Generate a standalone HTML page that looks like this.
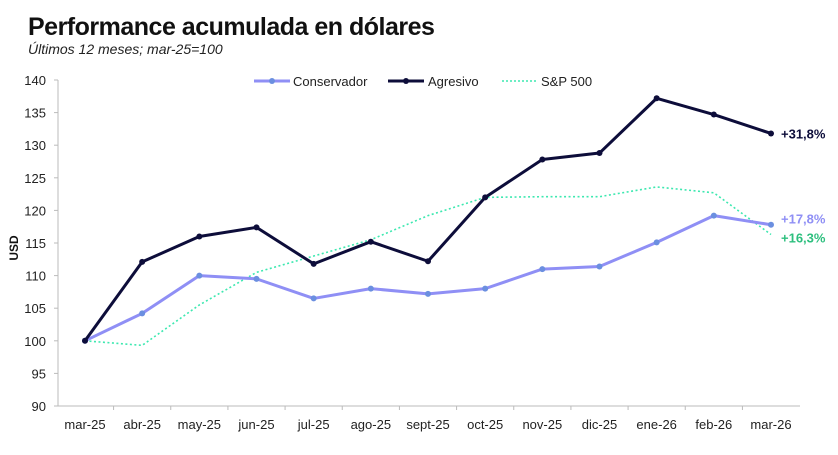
<!DOCTYPE html>
<html><head><meta charset="utf-8"><style>
body{margin:0;background:#fff;width:838px;height:450px;overflow:hidden;font-family:"Liberation Sans",sans-serif}
</style></head><body>
<svg id="c" width="838" height="450" xmlns="http://www.w3.org/2000/svg">
<text x="28" y="35" font-size="25" font-weight="bold" fill="#111" letter-spacing="-0.5">Performance acumulada en dólares</text>
<text x="28" y="54" font-size="14" font-style="italic" fill="#222">Últimos 12 meses; mar-25=100</text>
<text transform="translate(18,248) rotate(-90)" text-anchor="middle" font-size="12" font-weight="bold" fill="#111">USD</text>
<g id="axes"></g><g id="series"></g>
<g font-size="13" fill="#222">
<g><line x1="254" y1="81" x2="290" y2="81" stroke="#8f8ff5" stroke-width="3"/><circle cx="272" cy="81" r="3" fill="#6b8fe0"/><text x="293" y="86">Conservador</text></g>
<g><line x1="388" y1="81" x2="424" y2="81" stroke="#0d0d3a" stroke-width="3"/><circle cx="406" cy="81" r="3" fill="#0d0d3a"/><text x="428" y="86">Agresivo</text></g>
<g><line x1="502" y1="81" x2="538" y2="81" stroke="#3de8b0" stroke-width="1.5" stroke-dasharray="2,2"/><text x="541" y="86">S&amp;P 500</text></g>
</g>
</svg>
<script>
const categories=["mar-25","abr-25","may-25","jun-25","jul-25","ago-25","sept-25","oct-25","nov-25","dic-25","ene-26","feb-26","mar-26"];
const conservador=[100,104.2,110,109.5,106.5,108,107.2,108,111,111.4,115.1,119.2,117.8];
const agresivo=[100,112.1,116,117.4,111.8,115.2,112.2,122,127.8,128.8,137.2,134.7,131.8];
const sp500=[100,99.3,105.5,110.5,113,115.5,119.2,122,122.1,122.1,123.6,122.7,116.3];
const yTicks=[90,95,100,105,110,115,120,125,130,135,140];
const endLabels=["+17,8%","+31,8%","+16,3%"];
const NS="http://www.w3.org/2000/svg";
const x0=85,x1=771,yB=406,yT=80,vMin=90,vMax=140;
const X=i=>x0+(x1-x0)*i/(categories.length-1);
const Y=v=>yB-(v-vMin)/(vMax-vMin)*(yB-yT);
function mk(t,a,p){const e=document.createElementNS(NS,t);for(const k in a)e.setAttribute(k,a[k]);p.appendChild(e);return e;}
const ax=document.getElementById('axes'),se=document.getElementById('series');
const yl=mk('line',{x1:58,y1:yT,x2:58,y2:yB,stroke:'#bbb'},ax);

const xl=mk('line',{x1:58,y1:yB,x2:800,y2:yB,stroke:'#bbb'},ax);

yTicks.forEach(v=>{mk('line',{x1:54,y1:Y(v),x2:58,y2:Y(v),stroke:'#bbb'},ax);
const t=mk('text',{x:46,y:Y(v)+5,'text-anchor':'end','font-size':13,fill:'#222'},ax);t.textContent=v;
});
categories.forEach((c,i)=>{const t=mk('text',{x:X(i),y:429,'text-anchor':'middle','font-size':13,fill:'#222'},ax);t.textContent=c;

if(i<categories.length-1){const tx=(X(i)+X(i+1))/2;mk('line',{x1:tx,y1:yB,x2:tx,y2:yB+4,stroke:'#bbb'},ax);}});
function draw(data,name,color,w,dash,dot,dotColor){
const p=mk('polyline',{points:data.map((v,i)=>X(i)+','+Y(v)).join(' '),fill:'none',stroke:color,'stroke-width':w,'stroke-linejoin':'round'},se);
if(dash)p.setAttribute('stroke-dasharray',dash);

if(dot)data.forEach((v,i)=>{const c=mk('circle',{cx:X(i),cy:Y(v),r:3,fill:dotColor},se);
});}
draw(sp500,'sp500','#3de8b0',1.6,'2,2.5',false);
draw(conservador,'conservador','#8f8ff5',3,null,true,'#6b8fe0');
draw(agresivo,'agresivo','#0d0d3a',3,null,true,'#0d0d3a');
const L=categories.length-1;
const yC=Y(conservador[L])-5,yA=Y(agresivo[L])+5,yS=Math.max(Y(sp500[L]),yC+18)+5;
[[endLabels[0],'#8f8ff5',yC+4],[endLabels[1],'#0d0d3a',yA],[endLabels[2],'#2dbf7e',yS]].forEach((d,k)=>{
const t=mk('text',{x:781,y:d[2],'font-size':13,'font-weight':'bold',fill:d[1]},se);t.textContent=d[0];
});
</script>
</body></html>
